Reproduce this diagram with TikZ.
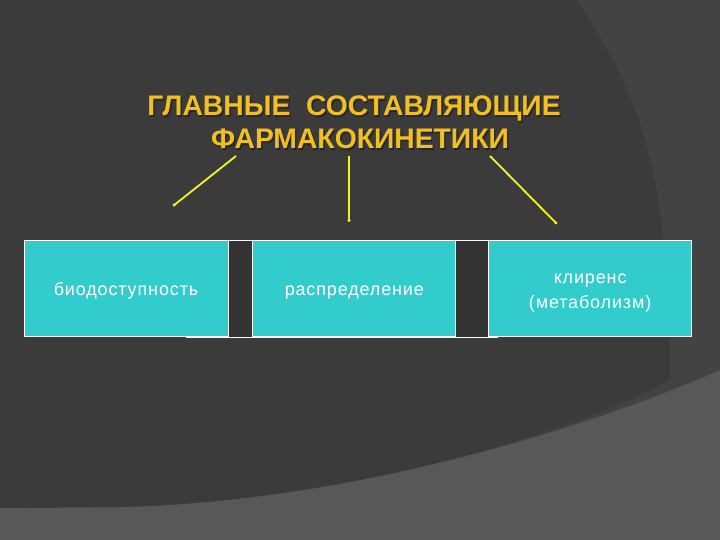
\documentclass[tikz,border=0pt]{standalone}
\usepackage{fontspec}
\setmainfont{Liberation Sans}
\newfontfamily\boxfont[LetterSpace=5]{Liberation Sans}
\usepackage{tikz}
\usetikzlibrary{positioning}
\usetikzlibrary{arrows.meta}
\definecolor{bgdark}{HTML}{3B3B3B}
\definecolor{bgmid}{HTML}{434343}
\definecolor{bglight}{HTML}{585858}
\definecolor{boxcyan}{HTML}{33CCCC}
\definecolor{gapdark}{HTML}{333333}
\definecolor{titlegold}{HTML}{F2C01E}
\definecolor{linkyellow}{HTML}{F5F51E}
\newcommand{\boxstrut}{\rule[-4bp]{0pt}{24bp}}

\begin{document}
\begin{tikzpicture}[x=1bp, y=1bp]
			\tikzstyle{PartBox}   = [rectangle, draw=white, line width=0.8bp, fill=boxcyan, text=white,
			                         minimum width=203bp, minimum height=96bp, inner sep=0pt,
			                         align=center, font=\boxfont\fontsize{18}{23}\selectfont]
			\tikzstyle{TitleText} = [align=center, font=\bfseries\fontsize{28.4}{33}\selectfont]
			\tikzstyle{LinkStyle} = [-{Circle[length=3bp]}, linkyellow]
			\useasboundingbox (0,0) rectangle (720,540);
			% background
			\fill[bglight] (0,0) rectangle (720,540);
			\fill[bgmid] (0,540) -- (720,540) -- (720,170)
			   .. controls (560,100) and (330,38) .. (120,33) -- (0,32) -- cycle;
			\fill[bgdark] (0,540) -- (577,540) .. controls (635,450) and (670,380) .. (670,160)
			   .. controls (560,100) and (330,38) .. (120,33) -- (0,32) -- cycle;
			%\draw[help lines] (0,0) grid[step=20] (720,540);
			% title
			\node[TitleText, text=black!85] (shadow) at (355.5,416)
			   {ГЛАВНЫЕ\ \ СОСТАВЛЯЮЩИЕ\\\hspace*{12bp}ФАРМАКОКИНЕТИКИ};
			\node[TitleText, text=titlegold] (title) at (354,417.5)
			   {ГЛАВНЫЕ\ \ СОСТАВЛЯЮЩИЕ\\\hspace*{12bp}ФАРМАКОКИНЕТИКИ};
			% boxes
			\filldraw[fill=gapdark, draw=white, line width=0.8bp] (186,203) rectangle (497,300);
			\node[PartBox, minimum width=204bp] (bio) at (126,252) {биодоступность\boxstrut};
			\node[PartBox, right=24bp of bio] (distr) {распределение\boxstrut};
			\node[PartBox, right=32bp of distr] (clear) {клиренс\boxstrut\\(метаболизм)\boxstrut};
			% links
			\coordinate (t1) at (236,384); \coordinate (e1) at (173,334);
			\coordinate (t2) at (349,384); \coordinate (e2) at (349,318);
			\coordinate (t3) at (490,384); \coordinate (e3) at (557,316);
			\draw[LinkStyle, line width=1.8bp] (t1) -- (e1);
			\draw[LinkStyle, line width=1.2bp] (t2) -- (e2);
			\draw[LinkStyle, line width=1.8bp] (t3) -- (e3);
		\end{tikzpicture}
\end{document}
